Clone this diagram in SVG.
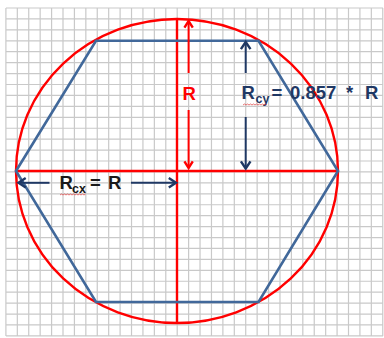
<svg xmlns="http://www.w3.org/2000/svg" width="384" height="338" viewBox="0 0 384 338">
<style>
.grid{stroke:#c9c9c9;stroke-width:1.2;fill:none}
.red{stroke:#ff0000;stroke-width:2.4;fill:none}
.hex{stroke:#41689a;stroke-width:2.6;fill:none;stroke-linejoin:miter}
.navy{stroke:#1f3864;stroke-width:2;fill:none}
.lbl{font-family:"Liberation Sans",Arial,sans-serif;font-weight:bold;font-size:18.5px}
.sub{font-size:12.5px}
.squig{stroke:#e04040;stroke-width:0.9;fill:none;opacity:0.8}
</style>
<defs>
<marker id="hR" markerUnits="userSpaceOnUse" markerWidth="12" markerHeight="12" refX="0" refY="0" viewBox="-7 -5 8 10" orient="auto-start-reverse" overflow="visible">
<path d="M-5.5,-3.5 L0,0 L-5.5,3.5" fill="none" stroke="#ff0000" stroke-width="2"/>
</marker>
<marker id="hN" markerUnits="userSpaceOnUse" markerWidth="12" markerHeight="12" refX="0" refY="0" viewBox="-7 -5 8 10" orient="auto-start-reverse" overflow="visible">
<path d="M-6,-4 L0,0 L-6,4" fill="none" stroke="#1f3864" stroke-width="2"/>
</marker>
</defs>
<rect width="384" height="338" fill="#ffffff"/>
<g id="grid" class="grid">
<path d="M6,8H383M6,18.93H383M6,29.86H383M6,40.79H383M6,51.72H383M6,62.65H383M6,73.58H383M6,84.51H383M6,95.44H383M6,106.37H383M6,117.3H383M6,128.23H383M6,139.16H383M6,150.09H383M6,161.02H383M6,171.95H383M6,182.88H383M6,193.81H383M6,204.74H383M6,215.67H383M6,226.6H383M6,237.53H383M6,248.46H383M6,259.39H383M6,270.32H383M6,281.25H383M6,292.18H383M6,303.11H383M6,314.04H383M6,324.97H383M6,335.9H383"/>
<path d="M5.9,8V336M17.32,8V336M28.74,8V336M40.16,8V336M51.58,8V336M63,8V336M74.42,8V336M85.84,8V336M97.26,8V336M108.68,8V336M120.1,8V336M131.52,8V336M142.94,8V336M154.36,8V336M165.78,8V336M177.2,8V336M188.62,8V336M200.04,8V336M211.46,8V336M222.88,8V336M234.3,8V336M245.72,8V336M257.14,8V336M268.56,8V336M279.98,8V336M291.4,8V336M302.82,8V336M314.24,8V336M325.66,8V336M337.08,8V336M348.5,8V336M359.92,8V336M371.34,8V336M382.76,8V336"/>
</g>
<g id="circle">
<ellipse class="red" cx="177" cy="171" rx="161" ry="152"/>
<line class="red" x1="177" y1="19" x2="177" y2="323"/>
<line class="red" x1="16" y1="171" x2="338" y2="171"/>
</g>
<g id="hexagon">
<polygon class="hex" points="16,171 96,40.7 258.5,40.7 338,171 258.5,302 96,302"/>
</g>
<g id="connectors">
<line class="red" style="stroke-width:2" x1="188.6" y1="73" x2="188.6" y2="21" marker-end="url(#hR)"/>
<line class="red" style="stroke-width:2" x1="188.6" y1="110" x2="188.6" y2="168" marker-end="url(#hR)"/>
<line class="navy" x1="245.7" y1="73" x2="245.7" y2="42" marker-end="url(#hN)"/>
<line class="navy" x1="245.7" y1="117" x2="245.7" y2="168.5" marker-end="url(#hN)"/>
<line class="navy" x1="49.5" y1="182.8" x2="18.5" y2="182.8" marker-end="url(#hN)"/>
<line class="navy" x1="131" y1="182.8" x2="176" y2="182.8" marker-end="url(#hN)"/>
</g>
<g id="label-R">
<text class="lbl" x="182.5" y="99.5" fill="#ff0000">R</text>
</g>
<g id="label-Rcy">
<text class="lbl" y="99.3" fill="#1f3864"><tspan x="241.5">R</tspan><tspan class="sub" x="255.5" y="103">cy</tspan><tspan x="271.5" y="99.3">=</tspan><tspan x="290">0.857</tspan><tspan x="346">*</tspan><tspan x="365">R</tspan></text>
<path class="squig" d="M243,105 l1.5,-1 l1.5,1 l1.5,-1 l1.5,1 l1.5,-1 l1.5,1 l1.5,-1 l1.5,1 l1.5,-1 l1.5,1 l1.5,-1 l1.5,1 l1.5,-1 l1.5,1 l1.5,-1 l1.5,1"/>
</g>
<g id="label-Rcx">
<text class="lbl" y="189.3" fill="#1a1a1a"><tspan x="59.5">R</tspan><tspan class="sub" x="72" y="193.3">cx</tspan><tspan x="90" y="189.3">=</tspan><tspan x="108">R</tspan></text>
<path class="squig" d="M60,195 l1.5,-1 l1.5,1 l1.5,-1 l1.5,1 l1.5,-1 l1.5,1 l1.5,-1 l1.5,1 l1.5,-1 l1.5,1 l1.5,-1 l1.5,1 l1.5,-1 l1.5,1 l1.5,-1 l1.5,1 l1.5,-1"/>
</g>
</svg>
